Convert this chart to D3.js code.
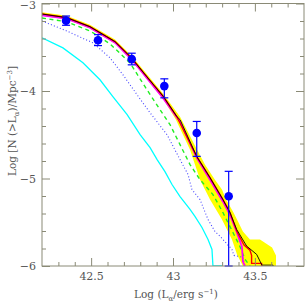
<!DOCTYPE html>
<html>
<head>
<meta charset="utf-8">
<script src="https://cdn.jsdelivr.net/npm/d3@7"></script>
<style>
  body { margin: 0; background: #fff; }
  svg text { font-family: "DejaVu Serif", "Liberation Serif", serif; fill: #555; }
</style>
</head>
<body>
<script>
// observed points (log L, log N) with error bars
const obsX = [42.347, 42.542, 42.748, 42.947, 43.145, 43.340];
const obsY = [-3.196, -3.420, -3.636, -3.944, -4.480, -5.203];
const obsHi = [-3.143, -3.356, -3.568, -3.861, -4.348, -4.918];
const obsLo = [-3.249, -3.481, -3.701, -4.078, -4.747, -6.0];

// model curves: [log L, log N]
const blackCurve = [[42.2, -3.12], [42.351, -3.162], [42.493, -3.265], [42.595, -3.379], [42.646, -3.436],
  [42.748, -3.625], [42.841, -3.838], [42.941, -4.063], [43.023, -4.291], [43.043, -4.328],
  [43.145, -4.747], [43.226, -4.99], [43.305, -5.241], [43.348, -5.389], [43.389, -5.583],
  [43.45, -5.773], [43.511, -5.868], [43.531, -5.944], [43.543, -5.99], [43.611, -5.99], [43.611, -6.0]];
const redCurve = [[42.2, -3.118], [42.351, -3.16], [42.493, -3.264], [42.595, -3.378], [42.646, -3.435],
  [42.748, -3.624], [42.841, -3.838], [42.941, -4.063], [43.023, -4.292], [43.145, -4.75],
  [43.226, -4.99], [43.305, -5.24], [43.348, -5.39], [43.389, -5.6], [43.434, -5.76],
  [43.47, -5.82], [43.48, -5.879], [43.48, -5.97], [43.541, -5.97], [43.541, -6.0]];
const magentaCurve = [[42.2, -3.135], [42.351, -3.174], [42.493, -3.276], [42.646, -3.448], [42.748, -3.64],
  [42.941, -4.085], [43.043, -4.355], [43.145, -4.765], [43.226, -5.015], [43.305, -5.265],
  [43.348, -5.415], [43.389, -5.61], [43.421, -5.78], [43.427, -5.95], [43.439, -6.0]];
const bandUpper = [[42.2, -3.1], [42.351, -3.14], [42.493, -3.242], [42.646, -3.412], [42.748, -3.6],
  [42.941, -4.035], [43.043, -4.294], [43.147, -4.67], [43.195, -4.841], [43.256, -5.013],
  [43.299, -5.127], [43.324, -5.241], [43.366, -5.378], [43.397, -5.492], [43.427, -5.605],
  [43.47, -5.697], [43.531, -5.697], [43.605, -5.788], [43.629, -5.879], [43.629, -6.0]];
const bandLower = [[42.2, -3.14], [42.351, -3.183], [42.493, -3.286], [42.646, -3.458], [42.748, -3.652],
  [42.941, -4.095], [43.018, -4.328], [43.104, -4.67], [43.165, -5.013], [43.226, -5.241],
  [43.299, -5.469], [43.36, -5.697], [43.391, -5.868], [43.427, -6.0]];
const greenCurve = [[42.2, -3.165], [42.351, -3.21], [42.493, -3.313], [42.616, -3.462], [42.738, -3.68],
  [42.83, -3.954], [42.921, -4.214], [42.982, -4.385], [43.043, -4.613], [43.104, -4.841],
  [43.165, -5.013], [43.244, -5.184], [43.305, -5.389], [43.366, -5.617], [43.409, -5.777],
  [43.44, -5.925], [43.47, -6.0]];
const blueCurve = [[42.2, -3.2], [42.351, -3.314], [42.511, -3.45], [42.616, -3.622], [42.695, -3.816],
  [42.781, -4.044], [42.86, -4.249], [42.964, -4.5], [43.043, -4.784], [43.092, -4.955],
  [43.116, -5.127], [43.165, -5.241], [43.214, -5.469], [43.256, -5.605], [43.287, -5.66],
  [43.36, -5.811], [43.372, -5.879], [43.427, -5.9], [43.44, -6.0]];
const cyanCurve = [[42.2, -3.393], [42.328, -3.507], [42.45, -3.678], [42.554, -3.872], [42.634, -4.066],
  [42.72, -4.271], [42.799, -4.499], [42.86, -4.647], [42.903, -4.784], [42.951, -4.921],
  [42.994, -5.069], [43.043, -5.206], [43.104, -5.354], [43.134, -5.434], [43.177, -5.56],
  [43.214, -5.697], [43.238, -5.811], [43.244, -6.0], [43.299, -6.0]];

const xTicks = [42.5, 43, 43.5];
const yTicks = [-3, -4, -5, -6];

const width = 305, height = 303;
const mLeft = 42, mRight = 304, mTop = 3.5, mBottom = 266;

const x = d3.scaleLinear().domain([42.2, 43.8]).range([mLeft, mRight]);
const y = d3.scaleLinear().domain([-6, -3]).range([mBottom, mTop]);

const svg = d3.select("body").append("svg")
  .attr("width", width)
  .attr("height", height);

const line = d3.line().x(d => x(d[0])).y(d => y(d[1]));

// clip to the frame
svg.append("clipPath").attr("id", "frame")
  .append("rect").attr("x", mLeft).attr("y", mTop).attr("width", mRight - mLeft).attr("height", mBottom - mTop);

const plot = svg.append("g").attr("clip-path", "url(#frame)");

// yellow spread band
plot.append("path")
  .attr("d", line(bandUpper.concat(bandLower.slice().reverse())) + "Z")
  .attr("fill", "#ffff00")
  .attr("stroke", "none");

plot.append("path").attr("d", line(cyanCurve))
  .attr("fill", "none").attr("stroke", "#00ffff").attr("stroke-width", 1.3);

plot.append("path").attr("d", line(blueCurve))
  .attr("fill", "none").attr("stroke", "#4646ff").attr("stroke-width", 1.1)
  .attr("stroke-dasharray", "1,2.2");

plot.append("path").attr("d", line(greenCurve))
  .attr("fill", "none").attr("stroke", "#22ee22").attr("stroke-width", 1.4)
  .attr("stroke-dasharray", "4,3.5");

plot.append("path").attr("d", line(magentaCurve))
  .attr("fill", "none").attr("stroke", "#ff00ff").attr("stroke-width", 1.8);

plot.append("path").attr("d", line(redCurve))
  .attr("fill", "none").attr("stroke", "#ff0000").attr("stroke-width", 1.4);

plot.append("path").attr("d", line(blackCurve))
  .attr("fill", "none").attr("stroke", "#000").attr("stroke-width", 0.9);

// error bars and points
const obs = obsX.map((v, i) => ({ x: v, y: obsY[i], hi: obsHi[i], lo: obsLo[i] }));
const eb = svg.append("g").attr("stroke", "#0000ff").attr("stroke-width", 1.2);
eb.selectAll(".bar").data(obs).enter().append("line")
  .attr("x1", d => x(d.x)).attr("x2", d => x(d.x))
  .attr("y1", d => y(d.hi)).attr("y2", d => y(d.lo));
eb.selectAll(".capHi").data(obs).enter().append("line")
  .attr("x1", d => x(d.x) - 4).attr("x2", d => x(d.x) + 4)
  .attr("y1", d => y(d.hi)).attr("y2", d => y(d.hi));
eb.selectAll(".capLo").data(obs).enter().append("line")
  .attr("x1", d => x(d.x) - 4).attr("x2", d => x(d.x) + 4)
  .attr("y1", d => y(d.lo)).attr("y2", d => y(d.lo));
svg.selectAll(".dot").data(obs).enter().append("circle")
  .attr("cx", d => x(d.x)).attr("cy", d => y(d.y)).attr("r", 4.3)
  .attr("fill", "#0000ff");

// axes, ticks inward on all sides
const minorX = d3.range(42.3, 43.8, 0.1).filter(v => !xTicks.some(t => Math.abs(t - v) < 1e-6));
const minorY = d3.range(-5.8, -3, 0.2).filter(v => !yTicks.some(t => Math.abs(t - v) < 1e-6));
const axisColor = "#8a8a76";

function styleAxis(g) {
  g.select(".domain").remove();
  g.selectAll(".tick line").attr("stroke", axisColor);
  g.selectAll("text").style("font-size", "11px").attr("fill", "#555");
}

svg.append("g").attr("transform", `translate(0,${mBottom})`)
  .call(d3.axisBottom(x).tickValues(xTicks).tickSize(-8).tickPadding(6).tickFormat(d3.format("")))
  .call(styleAxis);
svg.append("g").attr("transform", `translate(0,${mBottom})`)
  .call(d3.axisBottom(x).tickValues(minorX).tickSize(-4).tickFormat(""))
  .call(styleAxis);
svg.append("g").attr("transform", `translate(0,${mTop})`)
  .call(d3.axisTop(x).tickValues(xTicks).tickSize(-8).tickFormat(""))
  .call(styleAxis);
svg.append("g").attr("transform", `translate(0,${mTop})`)
  .call(d3.axisTop(x).tickValues(minorX).tickSize(-4).tickFormat(""))
  .call(styleAxis);

const yAxisG = svg.append("g").attr("transform", `translate(${mLeft},0)`)
  .call(d3.axisLeft(y).tickValues(yTicks).tickSize(-8).tickPadding(6).tickFormat(d => "\u2212" + Math.abs(d)))
  .call(styleAxis);
// keep the top label inside the picture
yAxisG.selectAll(".tick text").filter(d => d === -3).attr("dy", "0.42em");
svg.append("g").attr("transform", `translate(${mLeft},0)`)
  .call(d3.axisLeft(y).tickValues(minorY).tickSize(-4).tickFormat(""))
  .call(styleAxis);
svg.append("g").attr("transform", `translate(${mRight},0)`)
  .call(d3.axisRight(y).tickValues(yTicks).tickSize(-8).tickFormat(""))
  .call(styleAxis);
svg.append("g").attr("transform", `translate(${mRight},0)`)
  .call(d3.axisRight(y).tickValues(minorY).tickSize(-4).tickFormat(""))
  .call(styleAxis);

svg.append("rect")
  .attr("x", mLeft).attr("y", mTop).attr("width", mRight - mLeft).attr("height", mBottom - mTop)
  .attr("fill", "none").attr("stroke", axisColor).attr("stroke-width", 1);

// axis titles
const xt = svg.append("text")
  .attr("x", 176).attr("y", 298)
  .attr("text-anchor", "middle").style("font-size", "10.5px");
xt.append("tspan").text("Log (L");
xt.append("tspan").attr("dy", 3).style("font-size", "7px").text("\u03b1");
xt.append("tspan").attr("dy", -3).text("/erg s");
xt.append("tspan").attr("dy", -4).style("font-size", "7px").text("\u22121");
xt.append("tspan").attr("dy", 4).text(")");

const yt = svg.append("text")
  .attr("transform", "translate(16,121) rotate(-90)")
  .attr("text-anchor", "middle").style("font-size", "10.5px");
yt.append("tspan").text("Log [N (>L");
yt.append("tspan").attr("dy", 3).style("font-size", "7px").text("\u03b1");
yt.append("tspan").attr("dy", -3).text(")/Mpc");
yt.append("tspan").attr("dy", -4).style("font-size", "7px").text("\u22123");
yt.append("tspan").attr("dy", 4).text("]");
</script>
</body>
</html>
